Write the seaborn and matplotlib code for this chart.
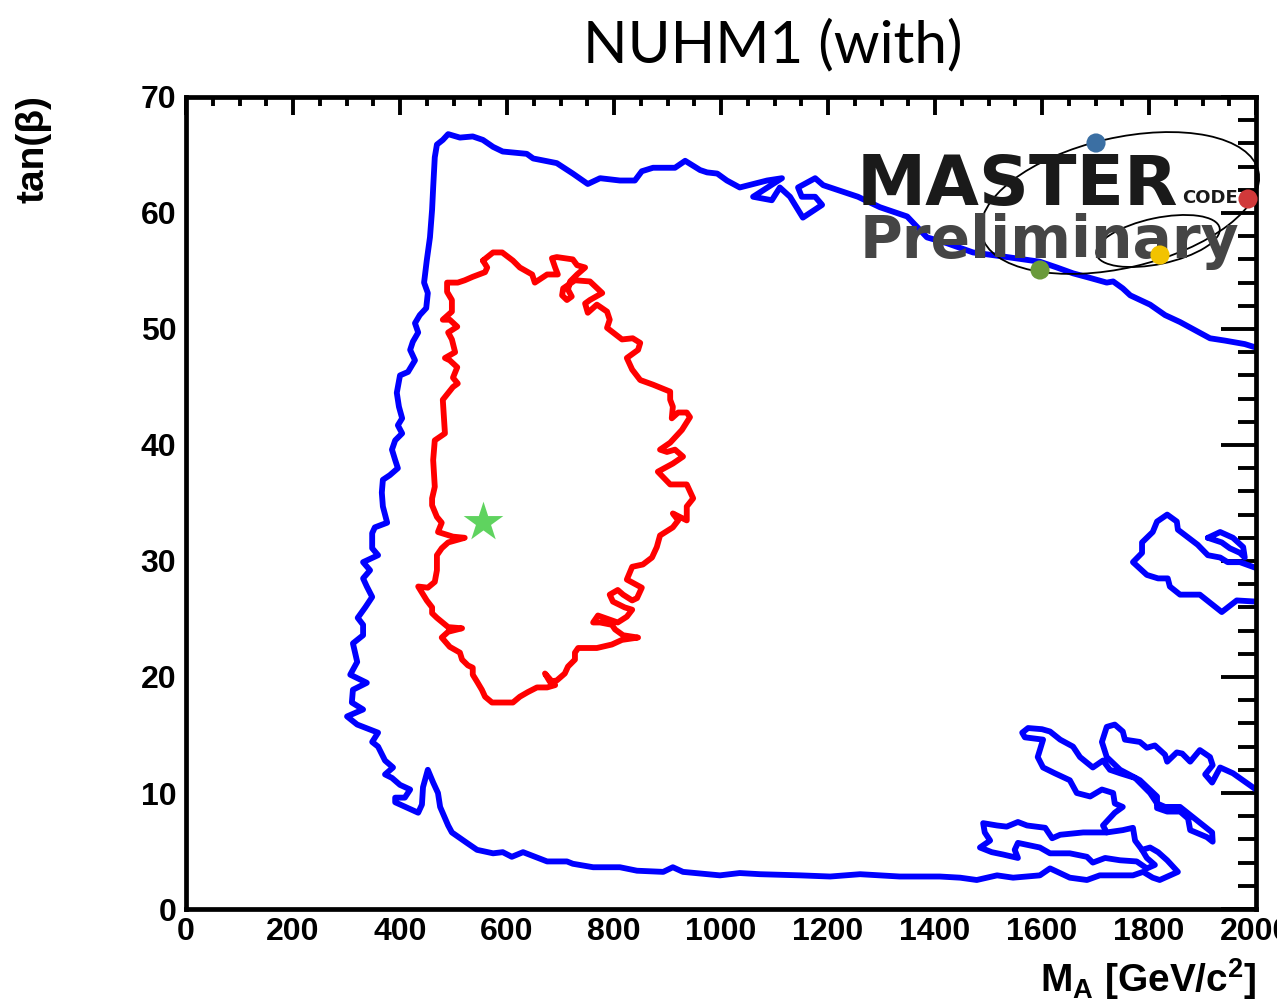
import matplotlib
matplotlib.use("Agg")
import matplotlib.pyplot as plt
from matplotlib.patches import Ellipse
from matplotlib.ticker import MultipleLocator
import numpy as np
import pandas as pd
import seaborn as sns

# ---------------- data ----------------
# main blue contour: from right edge (tanb~10) through the lower-right islands,
# along the bottom, up the left side, along the top to the right edge (tanb~48)
blue_main_x = [2000, 1957, 1933, 1918, 1905, 1919, 1914, 1895, 1877, 1862, 1852, 1834, 1830, 1811, 1796,
               1783, 1755, 1751, 1736, 1721, 1712, 1721, 1746, 1783, 1815, 1815, 1834, 1858, 1873, 1877,
               1908, 1919, 1918, 1877, 1858, 1830, 1815, 1802, 1774, 1746, 1727, 1714, 1695, 1671, 1658,
               1634, 1615, 1600, 1574, 1563, 1568, 1602, 1592, 1602, 1624, 1652, 1665, 1690, 1712, 1733,
               1736, 1751, 1736, 1714, 1721, 1751, 1770, 1774, 1787, 1802, 1817, 1834, 1854, 1820, 1807,
               1789, 1770, 1708, 1684, 1652, 1615, 1596, 1546, 1516, 1497, 1478, 1447, 1409, 1334, 1260,
               1204, 1148, 1073, 1035, 998, 929, 910, 892, 843, 811, 761, 723, 712, 675, 630,
               609, 592, 574, 544, 525, 497, 490, 475, 471, 462, 452, 443, 441, 434, 391,
               391, 409, 419, 400, 385, 372, 387, 372, 359, 348, 359, 320, 301, 331, 310,
               312, 338, 307, 320, 316, 312, 331, 331, 321, 335, 348, 338, 331, 344, 331,
               359, 348, 348, 353, 376, 368, 366, 368, 381, 396, 391, 385, 391, 404, 396,
               404, 398, 394, 396, 400, 415, 428, 419, 424, 434, 428, 437, 449, 452, 445,
               450, 456, 460, 462, 465, 469, 480, 490, 512, 536, 555, 574, 592, 637, 649,
               693, 723, 751, 774, 811, 839, 852, 873, 914, 933, 961, 974, 993, 1011, 1035,
               1086, 1114, 1060, 1095, 1110, 1129, 1153, 1189, 1176, 1151, 1144, 1176, 1191, 1217, 1256,
               1297, 1348, 1385, 1422, 1471, 1535, 1596, 1628, 1658, 1690, 1721, 1733, 1751, 1765, 1802,
               1830, 1858, 1886, 1914, 1942, 1979, 2000]
blue_main_y = [10.3, 11.7, 12.2, 10.9, 11.6, 12.4, 13.1, 13.7, 12.7, 13.4, 13.5, 12.7, 13.3, 14.1, 13.9,
               14.4, 14.6, 15.3, 15.9, 15.7, 14.4, 13.1, 12.0, 11.1, 9.7, 8.7, 8.4, 8.4, 7.8, 6.8,
               6.2, 5.8, 6.6, 8.1, 8.8, 8.8, 9.1, 10.0, 11.3, 11.7, 12.0, 12.8, 12.2, 13.1, 14.0,
               14.6, 15.3, 15.5, 15.6, 15.2, 14.8, 14.6, 13.1, 12.2, 11.7, 11.1, 10.0, 9.7, 10.3, 10.0,
               9.1, 8.8, 8.3, 7.2, 6.6, 6.8, 7.0, 5.9, 5.1, 5.3, 4.9, 4.2, 3.2, 2.5, 2.7,
               3.2, 2.9, 2.9, 2.5, 2.7, 3.5, 2.9, 2.7, 2.9, 2.7, 2.5, 2.7, 2.8, 2.8, 3.0,
               2.8, 2.9, 3.0, 3.1, 2.9, 3.2, 3.6, 3.2, 3.3, 3.6, 3.6, 3.9, 4.1, 4.1, 4.9,
               4.5, 4.9, 4.8, 5.1, 5.7, 6.6, 7.2, 8.8, 10.0, 10.9, 12.0, 10.5, 9.0, 8.3, 9.2,
               9.6, 9.6, 10.3, 10.7, 11.3, 11.6, 12.2, 12.8, 14.0, 14.4, 15.2, 15.9, 16.6, 17.2, 17.8,
               18.9, 19.5, 20.2, 21.3, 22.1, 22.9, 23.6, 24.5, 25.1, 26.0, 26.9, 27.8, 28.5, 29.2, 29.9,
               30.5, 31.1, 32.4, 32.9, 33.3, 34.7, 35.9, 37.0, 37.4, 38.0, 38.7, 39.6, 40.4, 41.0, 41.7,
               42.3, 43.3, 44.5, 45.0, 46.0, 46.3, 47.3, 48.2, 48.9, 49.7, 50.5, 51.2, 51.8, 53.1, 54.0,
               55.9, 57.9, 60.3, 62.2, 64.8, 65.9, 66.3, 66.8, 66.5, 66.6, 66.3, 65.7, 65.3, 65.1, 64.7,
               64.3, 63.4, 62.5, 63.0, 62.8, 62.8, 63.6, 63.9, 63.9, 64.5, 63.7, 63.5, 63.4, 62.8, 62.2,
               62.8, 63.0, 61.4, 61.1, 62.2, 61.4, 59.6, 60.7, 61.4, 61.4, 62.2, 63.0, 62.4, 62.0, 61.4,
               60.5, 59.7, 57.9, 57.4, 56.6, 56.2, 55.8, 55.3, 54.8, 54.4, 54.0, 54.1, 53.5, 52.9, 52.1,
               51.2, 50.6, 49.9, 49.2, 49.0, 48.7, 48.4]

# lower-right island (tanb ~ 4-7)
blue_loop_x = [1721, 1677, 1634, 1619, 1606, 1572, 1555, 1534, 1516, 1490, 1493, 1503, 1484, 1506, 1527,
               1555, 1549, 1555, 1596, 1615, 1652, 1684, 1695, 1718, 1746, 1777, 1796, 1811, 1796, 1787]
blue_loop_y = [6.6, 6.6, 6.4, 6.1, 7.0, 7.2, 7.5, 7.1, 7.2, 7.4, 6.6, 5.9, 5.3, 4.9, 4.7,
               4.4, 5.1, 5.7, 5.3, 4.8, 4.8, 4.5, 4.0, 4.4, 4.2, 4.1, 3.5, 3.8, 4.4, 5.1]

# right-edge island (tanb ~ 26-34)
blue_island_x = [2000, 1970, 1947, 1933, 1910, 1891, 1854, 1852, 1834, 1815, 1807, 1787, 1787, 1770, 1796,
                 1817, 1835, 1839, 1858, 1895, 1936, 1964, 2000]
blue_island_y = [29.4, 29.9, 29.9, 30.3, 30.5, 31.4, 32.7, 33.4, 34.0, 33.4, 32.5, 31.6, 30.7, 29.9, 28.8,
                 28.5, 28.5, 27.8, 27.1, 27.1, 25.6, 26.6, 26.5]
blue_small_x = [1910, 1933, 1957, 1976, 1979, 1970, 1951, 1936, 1910]
blue_small_y = [32.0, 32.5, 32.0, 31.2, 30.3, 30.7, 31.1, 31.6, 32.0]

# red contour (68% CL)
red_x = [555, 574, 591, 611, 624, 647, 652, 675, 695, 690, 684, 693, 723, 731, 746, 731, 718, 714, 721, 712,
         703, 705, 727, 755, 778, 755, 746, 751, 768, 787, 792, 787, 815, 835, 849, 845, 824, 834, 849, 873,
         905, 905, 910, 908, 920, 936, 942, 927, 905, 886, 899, 914, 929, 910, 882, 905, 936, 948, 936, 936,
         923, 910, 920, 910, 886, 880, 871, 854, 834, 824, 852, 843, 834, 817, 807, 792, 798, 820, 834, 824,
         807, 770, 761, 774, 796, 802, 817, 845, 815, 796, 768, 733, 727, 727, 714, 708, 693, 680, 671, 690,
         675, 656, 639, 624, 611, 572, 559, 553, 544, 536, 536, 527, 516, 512, 493, 478, 490, 516, 490, 469,
         460, 460, 450, 434, 452, 465, 469, 469, 478, 490, 521, 499, 471, 478, 469, 460, 460, 465, 462, 465,
         484, 480, 499, 508, 499, 507, 493, 484, 503, 497, 490, 507, 493, 480, 497, 497, 488, 488, 508, 521,
         536, 559, 563, 555]
red_y = [55.9, 56.6, 56.6, 55.9, 55.3, 54.7, 54.0, 54.7, 54.7, 55.3, 56.1, 56.2, 56.0, 55.5, 55.3, 54.7, 54.1,
         53.4, 52.8, 52.5, 52.9, 53.5, 54.2, 54.1, 53.1, 52.5, 52.2, 51.4, 52.1, 51.5, 50.8, 50.1, 49.1, 49.2,
         48.8, 48.2, 47.5, 46.5, 45.6, 45.2, 44.6, 43.9, 43.3, 42.3, 42.8, 42.8, 42.4, 41.3, 40.2, 39.6, 39.4,
         39.6, 39.0, 38.4, 37.7, 36.6, 36.6, 35.4, 34.7, 33.5, 33.8, 34.1, 33.5, 32.9, 32.2, 31.2, 30.3, 29.7,
         29.5, 28.4, 27.7, 26.8, 26.6, 27.1, 27.5, 27.1, 26.5, 26.0, 25.8, 25.2, 24.7, 25.3, 24.7, 24.7, 24.5,
         24.1, 23.6, 23.4, 23.2, 22.8, 22.5, 22.5, 22.1, 21.5, 20.9, 20.3, 19.7, 19.6, 20.3, 19.3, 19.1, 19.1,
         18.7, 18.3, 17.8, 17.8, 18.3, 18.9, 19.6, 20.2, 20.8, 21.0, 21.5, 22.1, 22.6, 23.4, 23.9, 24.2, 24.3,
         25.1, 25.5, 26.0, 26.6, 27.8, 27.7, 28.2, 29.2, 30.5, 31.1, 31.6, 32.0, 32.1, 32.5, 33.3, 33.8, 34.8,
         35.4, 36.4, 38.7, 40.4, 41.0, 43.9, 45.0, 45.3, 45.8, 46.7, 47.3, 47.5, 48.0, 49.1, 49.7, 50.2, 50.8,
         50.8, 51.5, 52.5, 53.2, 54.0, 54.0, 54.2, 54.5, 54.9, 55.3, 55.9]

# best-fit point
star_x = [555]
star_y = [33.4]

x_ticks = [0, 200, 400, 600, 800, 1000, 1200, 1400, 1600, 1800, 2000]
y_ticks = [0, 10, 20, 30, 40, 50, 60, 70]

# logo decoration (figure pixel frame)
logo_dot_x = [1096, 1248, 1160, 1040]
logo_dot_y = [143, 199, 255, 270]
logo_dot_c = ["#3b6fa3", "#d0393a", "#f2c300", "#6a9a3b"]

# ---------------- style ----------------
sns.set_theme(style="white")
plt.rcParams['font.family'] = ['Liberation Sans', 'DejaVu Sans']
plt.rcParams['mathtext.fontset'] = 'custom'
plt.rcParams['mathtext.rm'] = 'Liberation Sans:bold'
plt.rcParams['mathtext.it'] = 'Liberation Sans:bold'
plt.rcParams['mathtext.bf'] = 'Liberation Sans:bold'
for k in ["text.color", "axes.labelcolor", "xtick.color", "ytick.color", "axes.edgecolor"]:
    plt.rcParams[k] = "black"

W, H = 1277, 1005
fig = plt.figure(figsize=(W / 100, H / 100), dpi=100)
fig.patch.set_facecolor("white")
ax = fig.add_axes([186 / W, 96 / H, 1070 / W, 812 / H])
ax.set_facecolor("white")


def make_df(segs):
    frames = [pd.DataFrame({"x": xs, "y": ys, "seg": i}) for i, (xs, ys) in enumerate(segs)]
    return pd.concat(frames, ignore_index=True)


blue_df = make_df([(blue_main_x, blue_main_y), (blue_loop_x, blue_loop_y),
                   (blue_island_x, blue_island_y), (blue_small_x, blue_small_y)])
red_df = make_df([(red_x, red_y)])

sns.lineplot(data=blue_df, x="x", y="y", units="seg", estimator=None, sort=False,
             color="#0000ff", linewidth=4.2, ax=ax, legend=False)
sns.lineplot(data=red_df, x="x", y="y", units="seg", estimator=None, sort=False,
             color="#ff0000", linewidth=4.2, ax=ax, legend=False)
sns.scatterplot(x=star_x, y=star_y, marker="*", s=900, color="#5fd35f", linewidth=0,
                ax=ax, zorder=5, legend=False)

ax.set_xlim(0, 2000)
ax.set_ylim(0, 70)
ax.set_xticks(x_ticks)
ax.set_yticks(y_ticks)
ax.set_xticklabels([str(v) for v in x_ticks])
ax.set_yticklabels([str(v) for v in y_ticks])
ax.xaxis.set_minor_locator(MultipleLocator(50))
ax.yaxis.set_minor_locator(MultipleLocator(2))
ax.set_xlabel("")
ax.set_ylabel("")
for s in ax.spines.values():
    s.set_visible(True)
    s.set_linewidth(3.4)
    s.set_color("black")
ax.tick_params(which="both", direction="in", top=True, right=True, color="black", width=2.8,
               labelcolor="black")
ax.tick_params(axis="x", which="major", length=13, pad=6, labelsize=23)
ax.tick_params(axis="x", which="minor", length=6.5)
ax.tick_params(axis="y", which="major", length=25, pad=7, labelsize=23)
ax.tick_params(axis="y", which="minor", length=13)
for lab in ax.get_xticklabels() + ax.get_yticklabels():
    lab.set_fontweight("bold")

# titles and axis labels
fig.text(773 / W, 1 - 62 / H, "NUHM1 (with)", family="Lato", fontsize=42,
         ha="center", va="baseline", color="black")
fig.text(52 / W, 1 - 95 / H, "tan(β)", rotation=90, ha="right", va="top",
         fontsize=28, fontweight="bold", color="black")
fig.text(1257 / W, 1 - 992 / H, r"M$_\mathregular{A}$ [GeV/c$^\mathregular{2}$]",
         ha="right", va="baseline", fontsize=28, fontweight="bold", color="black")

# logo overlay
lax = fig.add_axes([0, 0, 1, 1], zorder=5)
lax.set_xlim(0, W)
lax.set_ylim(H, 0)
lax.axis("off")
lax.patch.set_alpha(0)
lax.text(857, 205, "MASTER", family="DejaVu Sans", fontsize=50, fontweight="bold",
         color="#1a1a1a", ha="left", va="baseline")
lax.text(1182, 203, "CODE", family="DejaVu Sans", fontsize=13, fontweight="bold",
         color="#1a1a1a", ha="left", va="baseline")
lax.text(860, 258, "Preliminary", family="DejaVu Sans", fontsize=42, fontweight="bold",
         color="#454545", ha="left", va="baseline")
lax.add_patch(Ellipse((1120, 203), 284, 130, angle=-13, fill=False, lw=1.3, ec="black"))
lax.add_patch(Ellipse((1158, 241), 126, 46, angle=-12, fill=False, lw=1.3, ec="black"))
lax.scatter(logo_dot_x, logo_dot_y, s=190, c=logo_dot_c, linewidths=0, zorder=6)

fig.savefig("out.png", dpi=100)
